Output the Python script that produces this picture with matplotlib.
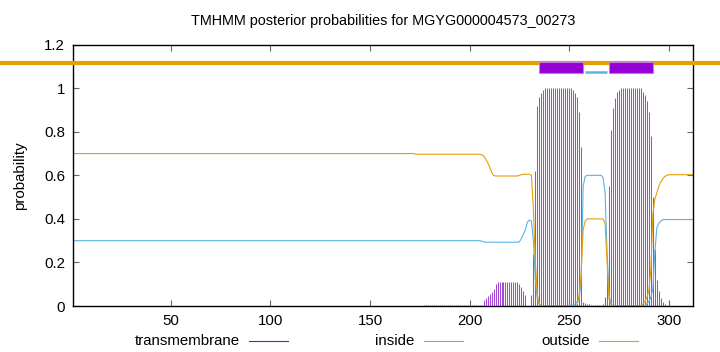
import numpy as np
import matplotlib
matplotlib.use("Agg")
import matplotlib.pyplot as plt
from matplotlib.patches import Rectangle
from matplotlib.lines import Line2D

plt.rcParams['font.family'] = ['Liberation Sans', 'DejaVu Sans']
plt.rcParams['font.size'] = 10.8

title = "TMHMM posterior probabilities for MGYG000004573_00273"
seq_len = 312
residues = np.arange(1, seq_len + 1)

# posterior probabilities per residue
outside = ([0.70] * 172 + [0.697] * 33 +
           [0.695, 0.69, 0.675, 0.66, 0.64, 0.615, 0.60] + [0.597] * 12 +
           [0.60, 0.603] + [0.605] * 4 + [0.60, 0.45, 0.20, 0.05, 0.01] +
           [0.0] * 18 + [0.005, 0.05, 0.15, 0.35, 0.39] + [0.40] * 8 +
           [0.40, 0.38, 0.20, 0.03, 0.005] + [0.0] * 15 +
           [0.01, 0.02, 0.04, 0.07, 0.17, 0.42, 0.49, 0.52, 0.55, 0.57, 0.585, 0.595, 0.60] +
           [0.603] * 13)

inside = ([0.30] * 205 + [0.298, 0.295] + [0.293] * 17 +
          [0.295, 0.31, 0.33, 0.35, 0.385, 0.395, 0.39, 0.30, 0.12, 0.03, 0.005] +
          [0.0] * 16 + [0.005, 0.01, 0.02, 0.03, 0.12, 0.55, 0.595] + [0.60] * 8 +
          [0.59, 0.52, 0.25, 0.05, 0.01] + [0.0] * 17 +
          [0.01, 0.02, 0.04, 0.08, 0.25, 0.36, 0.38, 0.39] + [0.397] * 16)

transmembrane = ([0.0] * 176 + [0.003] * 30 +
                 [0.027, 0.035, 0.045, 0.055, 0.065, 0.08, 0.10] + [0.108] * 11 +
                 [0.10, 0.085, 0.07, 0.05, 0.0, 0.0, 0.05] +
                 [0.24, 0.62, 0.92, 0.96, 0.98, 0.99] + [1.0] * 14 +
                 [0.99, 0.98, 0.96, 0.89, 0.73] + [0.02, 0.015, 0.01, 0.008] + [0.005] * 6 +
                 [0.01, 0.04, 0.18, 0.55, 0.81, 0.91, 0.955, 0.985, 0.99] + [1.0] * 11 +
                 [0.985, 0.97, 0.94, 0.89, 0.78, 0.50, 0.26, 0.12, 0.07, 0.035, 0.02, 0.01] +
                 [0.0] * 14)

# predicted topology shown above the curves
tm_segments = [(235, 257), (270, 292)]
inside_segments = [(258, 269)]

c_tm = '#9400d3'
c_in = '#56b4e9'
c_out = '#e69f00'

fig = plt.figure(figsize=(7.2, 3.52), dpi=100)
ax = fig.add_axes([73.3 / 720, 1 - 306 / 352, (692.7 - 73.3) / 720, (306 - 44.7) / 352])

ax.vlines(residues, 0, transmembrane, color='#a848d8', linewidth=0.75)
ax.plot(residues, inside, color=c_in, linewidth=0.8)
ax.plot(residues, outside, color=c_out, linewidth=0.8)

# outside bar runs across the whole figure
ax.plot([-36, 326], [1.116, 1.116], color=c_out, linewidth=3, clip_on=False,
        solid_capstyle='butt', zorder=3)
for a, b in inside_segments:
    ax.plot([a, b], [1.075, 1.075], color=c_in, linewidth=1.8, solid_capstyle='butt', zorder=3)
for a, b in tm_segments:
    ax.add_patch(Rectangle((a, 1.072), b - a, 0.05, facecolor=c_tm,
                           edgecolor='#c07ee0', linewidth=0.8, zorder=4))

ax.set_xlim(1, seq_len)
ax.set_ylim(0, 1.2)
ax.set_xticks([50, 100, 150, 200, 250, 300])
ax.set_yticks([0, 0.2, 0.4, 0.6, 0.8, 1.0, 1.2])
ax.set_yticklabels(['0', '0.2', '0.4', '0.6', '0.8', '1', '1.2'])
ax.tick_params(direction='in', length=4, width=0.8, color='#666666',
               top=True, right=True, labelsize=10.8, pad=6)
for s in ax.spines.values():
    s.set_linewidth(1)
ax.set_ylabel('probability', fontsize=10.8, labelpad=12)
ax.set_title(title, fontsize=10.4, pad=14)

# legend along the bottom, gnuplot style
legend = [('transmembrane', c_tm, 240, 249, 288),
          ('inside', c_in, 414, 424, 463),
          ('outside', c_out, 590, 599, 638)]
ly = 1 - 341 / 352
for name, col, tx, x0, x1 in legend:
    fig.text(tx / 720, ly, name, ha='right', va='center', fontsize=10.8)
    fig.add_artist(Line2D([x0 / 720, x1 / 720], [ly, ly], color=col, linewidth=0.8))

fig.savefig('out.png', dpi=100)
